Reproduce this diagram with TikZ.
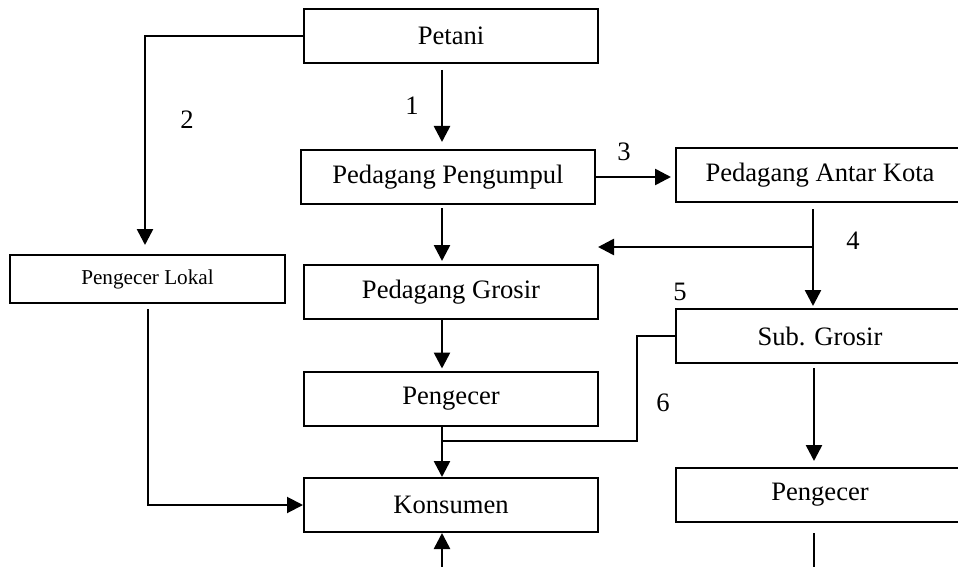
\documentclass[tikz,border=0pt]{standalone}
\usepackage{fontspec}
\setmainfont{Liberation Serif}
\usetikzlibrary{arrows.meta}

\tikzset{
    boks/.style={draw, line width=1pt, inner sep=0pt, minimum width=147pt, minimum height=27pt,
        font=\fontsize{13.3}{16}\selectfont},
    panah/.style={line width=1.3pt, -{Triangle[length=8pt,width=8pt]}},
    garis/.style={line width=1pt},
    nomor/.style={font=\fontsize{13.3}{16}\selectfont}
}

\begin{document}
\begin{tikzpicture}[x=0.5pt, y=-0.5pt]
    \useasboundingbox (0,0) rectangle (958,567);

    % Boxes, middle column
    \node[boks] (petani) at (451,36) {Petani};
    \node[boks] (pengumpul) at (448,177) {Pedagang Pengumpul};
    \node[boks] (grosir) at (451,292) {Pedagang Grosir};
    \node[boks] (pengecer) at (451,398.5) {Pengecer};
    \node[boks] (konsumen) at (451,505) {Konsumen};

    % Boxes, left and right
    \node[boks, minimum width=137.5pt, minimum height=24pt, font=\fontsize{10.6}{13}\selectfont] (lokal) at (147.5,279) {Pengecer Lokal};
    \node[boks, minimum width=144pt] (antarkota) at (820,175) {Pedagang Antar Kota};
    \node[boks, minimum width=144pt] (subgrosir) at (820,336) {Sub. Grosir};
    \node[boks, minimum width=144pt] (pengecerb) at (820,495) {Pengecer};

    % Free ends
    \coordinate (cabang4) at (813,247);
    \coordinate (ujung4) at (598,247);
    \coordinate (siku2) at (145,36);
    \coordinate (siku6) at (637,336);
    \coordinate (temu6) at (442,441);
    \coordinate (awallokal) at (148,309);
    \coordinate (bawahk) at (442,580);
    \coordinate (bawahp) at (814,580);

    % Arrows
    \draw[panah] (petani.west) -- (siku2) -- ([yshift=4.5pt]siku2 |- lokal.north);
    \draw[panah, shorten <=3pt, shorten >=3.5pt] ([xshift=-4.5pt]petani.south) -- ([xshift=-3pt]pengumpul.north);
    \draw[panah, shorten <=1.5pt, shorten >=1.5pt] ([xshift=-3pt]pengumpul.south) -- ([xshift=-4.5pt]grosir.north);
    \draw[panah, shorten >=1pt] ([xshift=-4.5pt]grosir.south) -- ([xshift=-4.5pt]pengecer.north);
    \draw[panah] ([xshift=-4.5pt]pengecer.south) -- ([xshift=-4.5pt]konsumen.north);
    \draw[panah, shorten >=2pt] (pengumpul.east) -- (antarkota.west |- pengumpul.east);
    \draw[panah, shorten <=3pt, shorten >=1pt] ([xshift=-3.5pt]antarkota.south) -- ([xshift=-3.5pt]subgrosir.north);
    \draw[panah] (cabang4) -- (ujung4);
    \draw[panah, shorten <=2pt, shorten >=3pt] ([xshift=-3pt]subgrosir.south) -- ([xshift=-3pt]pengecerb.north);
    \draw[garis, -{Triangle[length=8pt,width=8pt]}] (awallokal) |- (konsumen.west);
    \draw[garis] (subgrosir.west) -- (siku6) |- (temu6);
    \draw[panah] (bawahk) -- ([xshift=-4.5pt]konsumen.south);
    \draw[garis, shorten <=5pt] (pengecerb.south -| bawahp) -- (bawahp);

    % Numbers
    \node[nomor] (l1) at (412,106) {1};
    \node[nomor] (l2) at (187,120) {2};
    \node[nomor] (l3) at (624,152) {3};
    \node[nomor] (l4) at (853,241) {4};
    \node[nomor] (l5) at (680,292) {5};
    \node[nomor] (l6) at (663,403) {6};
\end{tikzpicture}
\end{document}
